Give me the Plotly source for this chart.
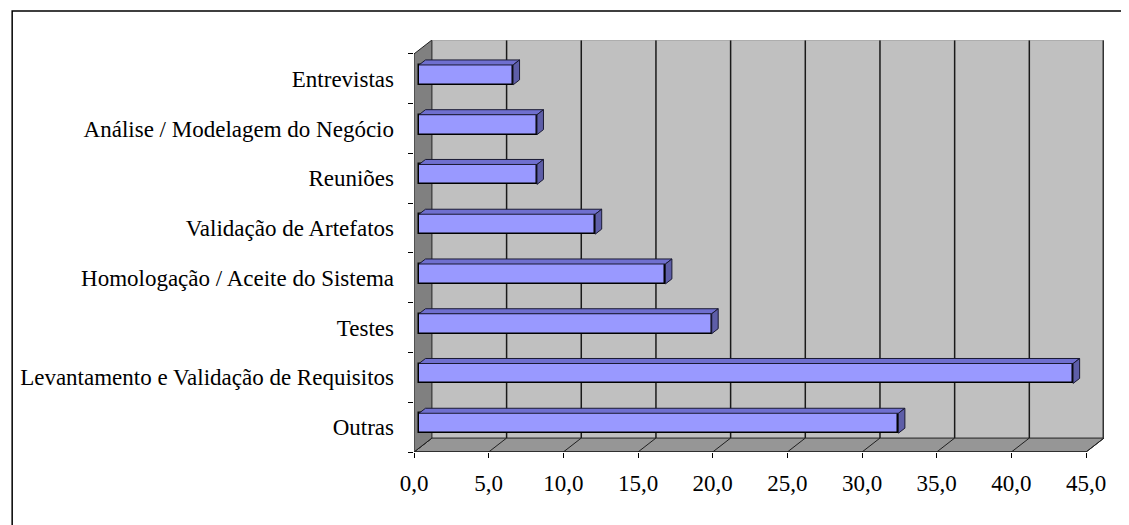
import plotly.graph_objects as go

# ---- data (top to bottom as displayed) ----
categories = [
    "Entrevistas",
    "Análise / Modelagem do Negócio",
    "Reuniões",
    "Validação de Artefatos",
    "Homologação / Aceite do Sistema",
    "Testes",
    "Levantamento e Validação de Requisitos",
    "Outras",
]
values = [6.3, 7.9, 7.9, 11.8, 16.5, 19.6, 43.8, 32.1]
x_ticks = [0, 5, 10, 15, 20, 25, 30, 35, 40, 45]

# ---- 3D geometry constants (in axis units) ----
XMAX = 45.0
DX, DY = 1.2, 0.28          # depth offset of back wall
F1, F2 = 0.28, 0.64         # bar front / back depth fraction
BAR_H = 0.40
OFF = 8                     # default page body margin
W, H = 1129 - OFF, 525 - OFF
ML, MR, MT, MB = 412 - OFF, 25, 40 - OFF, 73

n = len(categories)
cats_bottom_up = categories[::-1]
vals_bottom_up = values[::-1]
ypos = list(range(n))

b0 = F1 * DX
yoff = F1 * DY
ddx = (F2 - F1) * DX
ddy = (F2 - F1) * DY

fig = go.Figure()

# front faces
fig.add_trace(go.Bar(
    orientation="h",
    x=vals_bottom_up,
    y=[p + yoff for p in ypos],
    base=b0,
    width=BAR_H,
    marker=dict(color="#9999FF", line=dict(color="black", width=1.5)),
    hoverinfo="skip",
    showlegend=False,
))

# top and side faces computed from values
tx, ty, sx, sy = [], [], [], []
for p, v in zip(ypos, vals_bottom_up):
    yt = p + yoff + BAR_H / 2
    yb = p + yoff - BAR_H / 2
    xr = b0 + v
    tx += [b0, xr, xr + ddx, b0 + ddx, b0, None]
    ty += [yt, yt, yt + ddy, yt + ddy, yt, None]
    sx += [xr, xr, xr + ddx, xr + ddx, xr, None]
    sy += [yb, yt, yt + ddy, yb + ddy, yb, None]

fig.add_trace(go.Scatter(x=tx, y=ty, mode="lines", fill="toself",
                         fillcolor="#6F6FCF", line=dict(color="#1a1a33", width=1),
                         hoverinfo="skip", showlegend=False))
fig.add_trace(go.Scatter(x=sx, y=sy, mode="lines", fill="toself",
                         fillcolor="#5E5EA8", line=dict(color="#1a1a33", width=1),
                         hoverinfo="skip", showlegend=False))

shapes = []
y0, y1 = -0.5, n - 0.5
# back wall
shapes.append(dict(type="path", xref="x", yref="y", layer="below",
                   path=f"M {DX},{y0+DY} L {XMAX+DX},{y0+DY} L {XMAX+DX},{y1+DY} L {DX},{y1+DY} Z",
                   fillcolor="#C0C0C0", line=dict(width=0)))
# gridlines on back wall and floor
for k in x_ticks[1:]:
    shapes.append(dict(type="line", xref="x", yref="y", layer="below",
                       x0=k + DX, x1=k + DX, y0=y0 + DY, y1=y1 + DY,
                       line=dict(color="#1a1a1a", width=1.5)))
# floor
shapes.append(dict(type="path", xref="x", yref="y", layer="below",
                   path=f"M 0,{y0} L {XMAX},{y0} L {XMAX+DX},{y0+DY} L {DX},{y0+DY} Z",
                   fillcolor="#969696", line=dict(color="#202020", width=1)))
for k in x_ticks:
    shapes.append(dict(type="line", xref="x", yref="y", layer="below",
                       x0=k, x1=k + DX, y0=y0, y1=y0 + DY,
                       line=dict(color="#202020", width=1)))
# left wall
shapes.append(dict(type="path", xref="x", yref="y", layer="below",
                   path=f"M 0,{y0} L 0,{y1} L {DX},{y1+DY} L {DX},{y0+DY} Z",
                   fillcolor="#808080", line=dict(color="#202020", width=1)))
# back wall edges
shapes.append(dict(type="line", xref="x", yref="y", layer="below",
                   x0=XMAX + DX, x1=XMAX + DX, y0=y0 + DY, y1=y1 + DY,
                   line=dict(color="#333333", width=3)))
shapes.append(dict(type="line", xref="x", yref="y", layer="below",
                   x0=DX, x1=XMAX + DX, y0=y1 + DY, y1=y1 + DY,
                   line=dict(color="#9a9a9a", width=1)))
# floor front edge
shapes.append(dict(type="line", xref="x", yref="y", layer="below",
                   x0=0, x1=XMAX, y0=y0, y1=y0,
                   line=dict(color="#202020", width=1.5)))

# outer chart border (pixel -> paper)
pw = W - ML - MR
ph = H - MT - MB
def px2paper_x(px): return (px - ML) / pw
def px2paper_y(py): return (H - MB - py) / ph
shapes.append(dict(type="rect", xref="paper", yref="paper", layer="above",
                   x0=px2paper_x(9 - OFF), x1=px2paper_x(W + 10),
                   y0=px2paper_y(H + 10), y1=px2paper_y(11 - OFF),
                   line=dict(color="black", width=1.5), fillcolor="rgba(0,0,0,0)"))

font = dict(family="Liberation Serif, Times New Roman, serif", size=23, color="black")

fig.update_layout(
    width=W, height=H,
    margin=dict(l=ML, r=MR, t=MT, b=MB, pad=0),
    paper_bgcolor="white", plot_bgcolor="white",
    font=font,
    separators=", ",
    shapes=shapes,
    bargap=0,
    xaxis=dict(range=[0, XMAX + DX], tickvals=x_ticks, tickformat=".1f",
               ticks="outside", ticklen=5, tickcolor="black", tickwidth=1,
               showgrid=False, zeroline=False, showline=False,
               ticklabelstandoff=5, fixedrange=True),
    yaxis=dict(range=[y0, y1 + DY], tickvals=ypos, ticktext=cats_bottom_up,
               ticks="", showgrid=False, zeroline=False, showline=False,
               ticklabelstandoff=19,
               minor=dict(tickvals=[p - 0.5 for p in range(n + 1)], ticks="outside",
                          ticklen=5, tickcolor="black", tickwidth=1, showgrid=False),
               fixedrange=True),
)

fig.write_html("out.html")
